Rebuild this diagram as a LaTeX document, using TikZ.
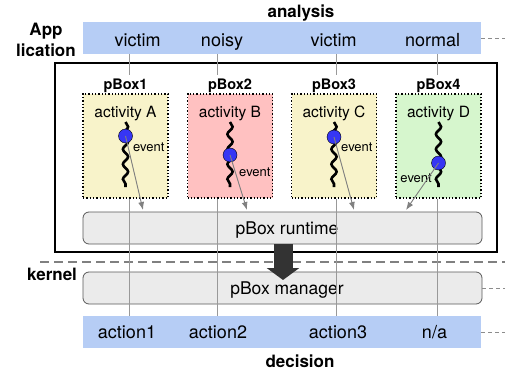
\documentclass[tikz,border=0pt]{standalone}
\usepackage{fontspec}
\setmainfont{TeX Gyre Heros}
\usetikzlibrary{arrows.meta, decorations.pathmorphing}
\definecolor{barblue}{HTML}{B6CDF5}
\definecolor{boxyellow}{HTML}{F8F3CA}
\definecolor{boxred}{HTML}{FFC1C1}
\definecolor{boxgreen}{HTML}{D6F6CD}
\definecolor{dotblue}{HTML}{3636F4}
\definecolor{layergray}{HTML}{EBEBEB}
\newcommand{\fs}[1]{\fontsize{#1}{#1}\selectfont}
\begin{document}
\begin{tikzpicture}[x=1pt, y=-1pt, >=latex,
  bar/.style={fill=barblue, minimum width=398pt, minimum height=32pt, inner sep=0},
  layer/.style={draw=black!65, line width=0.8pt, fill=layergray, rounded corners=6pt, minimum width=399pt, minimum height=32pt, inner sep=0, text height=12pt, text depth=0pt, font=\fs{17.5}},
  pbox/.style={draw, dotted, line width=1.3pt, minimum width=85pt, minimum height=104pt, inner sep=0},
  colline/.style={draw=black!40, line width=0.8pt},
  tag/.style={font=\fs{14.5}\bfseries, anchor=base},
  head/.style={font=\fs{17}\bfseries, anchor=base},
  thread/.style={line width=2.6pt, decorate, decoration={snake, amplitude=2.6pt, segment length=15pt}},
  sidedash/.style={draw=black!45, line width=0.6pt, dash pattern=on 4pt off 3pt}]
\useasboundingbox (0,0) rectangle (505,374);

% layers
\node[bar] (analysis) at (282,38) {};
\node[bar] (decision) at (282,332) {};
\node[draw, line width=1.8pt, minimum width=442pt, minimum height=189pt, inner sep=0] (app) at (276,157.5) {};
\node[layer] (runtime) at (282.5,228) {\hspace*{9pt}pBox runtime};
\node[layer] (manager) at (282.5,288) {\hspace*{9pt}pBox manager};
\draw[draw=black!50, line width=1.4pt, dash pattern=on 9pt off 5pt] (40,262) -- (505,262);

\node[head] (analysislabel) at (301,18) {analysis};
\node[head] (decisionlabel) at (300,367) {decision};
\node[head] (kernellabel) at (52,280) {kernel};
\node[font=\fontsize{17}{21}\selectfont\bfseries, align=center, inner sep=0] (applabel) at (46,40) {App\\lication};

% one column per pBox
\foreach \i/\cx/\bx/\ux/\dx/\fc/\act/\dy/\ulab/\dlab in {
  1/129/125.5/137.5/127/boxyellow/A/136/victim/action1,
  2/217/230/222/218/boxred/B/155/noisy/action2,
  3/336/334/333.5/338/boxyellow/C/137/victim/action3,
  4/437/438.5/432.5/434.5/boxgreen/D/163/normal/{n/a}}
{
  \coordinate (col\i) at (\cx,0);
  \node[font=\fs{18}, anchor=base] (top\i) at (\ux,47) {\ulab};
  \node[font=\fs{18}, anchor=base] (bot\i) at (\dx,338) {\dlab};
  \node[tag] (name\i) at (\bx,89.5) {pBox\i};
  \node[pbox, fill=\fc] (box\i) at (\bx,146) {};
  \node[font=\fs{15.5}, anchor=base] (act\i) at (\bx,118) {activity \act};
  \draw[thread] (\bx,122) -- (\bx,187);
  \node[circle, draw, fill=dotblue, minimum size=14pt, inner sep=0] (dot\i) at (\bx,\dy) {};
  \draw[colline] (analysis.south -| col\i) -- (name\i.north -| col\i);
  \draw[colline] (box\i.south -| col\i) -- (decision.north -| col\i);
}
\foreach \i/\ex/\ey/\ea in {1/133/152/base west, 2/239/176/base west, 3/341/152/base west, 4/432/182/base east}
  \node[font=\fs{13}, anchor=\ea, inner sep=0] (ev\i) at (\ex,\ey) {event};
\foreach \i/\tx in {1/143, 2/247, 3/354, 4/406}
{
  \coordinate (hit\i) at (\tx,210);
  \draw[-{Latex[length=8pt,width=6pt]}, draw=black!50, fill=black!50, line width=0.9pt] (dot\i.center) -- (hit\i);
}

% runtime -> manager
\coordinate (push) at (283,244);
\coordinate (land) at (283,280);
\draw[line width=19pt, draw=black!80, -{Triangle[length=12pt, width=32pt]}] (push) -- (land);

\draw[sidedash] (analysis.east) -- ++(24,0);
\draw[sidedash] (manager.east) -- ++(23,0);
\draw[sidedash] (decision.east) -- ++(24,0);
\end{tikzpicture}
\end{document}
